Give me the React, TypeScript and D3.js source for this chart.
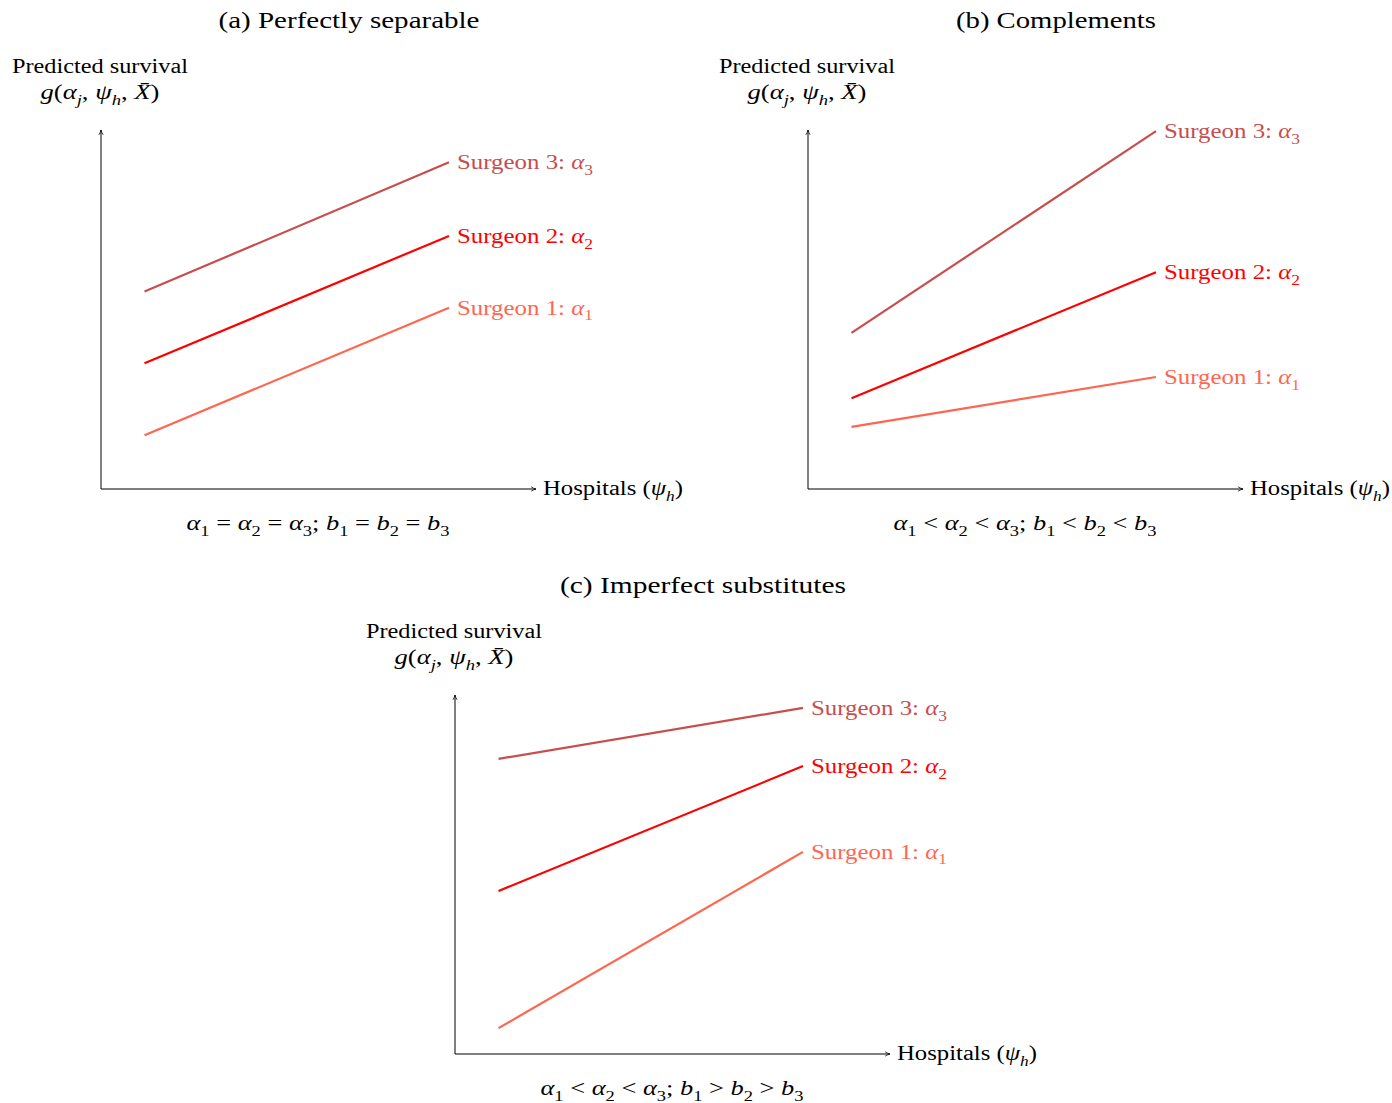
import React from "react";
import * as d3 from "d3";

const SURGEON_IDS = [1, 2, 3];
const COLORS = ["#ff6650", "#ff0000", "#c84d4d"];
const X_START = 1;
const X_END = 8;

const A_START = [1.5, 3.5, 5.5];
const A_END = [5.05, 7.05, 9.1];
const B_START = [1.73, 2.53, 4.35];
const B_END = [3.12, 6.04, 9.97];
const C_START = [0.72, 4.54, 8.22];
const C_END = [5.63, 8.02, 9.64];

const TITLES = ["(a) Perfectly separable", "(b) Complements", "(c) Imperfect substitutes"];
const RELS = [["=", "="], ["<", "<"], ["<", ">"]];

const FONT = "'Liberation Serif', 'Times New Roman', serif";

type Seg = { t: string; i?: boolean; s?: boolean };

function MathText({ x, y, segs, size, anchor = "start", fill = "#000", len }: any) {
  const sub = size * 0.28;
  const out: any[] = [];
  let shifted = false;
  segs.forEach((g: Seg, k: number) => {
    let dy = 0;
    if (g.s && !shifted) { dy = sub; shifted = true; }
    else if (!g.s && shifted) { dy = -sub; shifted = false; }
    out.push(
      <tspan key={k} dy={dy || undefined} fontStyle={g.i ? "italic" : undefined} fontSize={g.s ? size * 0.7 : undefined}>
        {g.t}
      </tspan>
    );
  });
  return (
    <text x={x} y={y} fontSize={size} fontFamily={FONT} textAnchor={anchor} fill={fill}
      textLength={len} lengthAdjust={len ? "spacingAndGlyphs" : undefined}>
      {out}
    </text>
  );
}

const gSegs: Seg[] = [
  { t: "g", i: true }, { t: "(" }, { t: "α", i: true }, { t: "j", i: true, s: true },
  { t: ", " }, { t: "ψ", i: true }, { t: "h", i: true, s: true }, { t: ", " },
  { t: "X\u0304", i: true }, { t: ")" },
];
const hospSegs: Seg[] = [{ t: "Hospitals (" }, { t: "ψ", i: true }, { t: "h", i: true, s: true }, { t: ")" }];

function captionSegs(r: string[]): Seg[] {
  return [
    { t: "α", i: true }, { t: "1", s: true }, { t: ` ${r[0]} ` }, { t: "α", i: true }, { t: "2", s: true },
    { t: ` ${r[0]} ` }, { t: "α", i: true }, { t: "3", s: true }, { t: "; " },
    { t: "b", i: true }, { t: "1", s: true }, { t: ` ${r[1]} ` }, { t: "b", i: true }, { t: "2", s: true },
    { t: ` ${r[1]} ` }, { t: "b", i: true }, { t: "3", s: true },
  ];
}

const x = d3.scaleLinear().domain([0, 10]).range([101, 536]);
const y = d3.scaleLinear().domain([0, 10]).range([489, 130]);
const line = d3.line<[number, number]>().x((d) => x(d[0])).y((d) => y(d[1]));

function Panel({ ox, oy, title, titleLen, starts, ends, rel, capLen }: any) {
  return (
    <g transform={`translate(${ox},${oy})`}>
      <MathText x={349} y={28} segs={[{ t: title }]} size={24} anchor="middle" len={titleLen} />
      <MathText x={100} y={73} segs={[{ t: "Predicted survival" }]} size={20} anchor="middle" len={176} />
      <MathText x={100} y={99} segs={gSegs} size={20} anchor="middle" len={119} />
      <line x1={x(0)} y1={y(0)} x2={x(0)} y2={y(10)} stroke="#000" strokeWidth={1} markerEnd="url(#arr)" />
      <line x1={x(0)} y1={y(0)} x2={x(10)} y2={y(0)} stroke="#000" strokeWidth={1} markerEnd="url(#arr)" />
      <MathText x={543} y={495} segs={hospSegs} size={20} len={140} />
      <MathText x={318} y={530} segs={captionSegs(rel)} size={20} anchor="middle" len={capLen} />
      {SURGEON_IDS.map((id, k) => (
        <g key={id}>
          <path d={line([[X_START, starts[k]], [X_END, ends[k]]]) || ""} stroke={COLORS[k]} strokeWidth={2.2} fill="none" />
          <MathText x={x(X_END) + 8} y={y(ends[k]) + 7} fill={COLORS[k]} size={20} len={136}
            segs={[{ t: `Surgeon ${id}: ` }, { t: "α", i: true }, { t: String(id), s: true }]} />
        </g>
      ))}
    </g>
  );
}

export default function App() {
  return (
    <svg width={1392} height={1103} style={{ display: "block", position: "absolute", left: 0, top: 0, background: "#fff" }}>
      <defs>
        <marker id="arr" viewBox="0 0 10 10" refX="9" refY="5" markerWidth="6" markerHeight="6" orient="auto" markerUnits="userSpaceOnUse">
          <path d="M1,1.5 Q5,4 9,5 Q5,6 1,8.5" fill="none" stroke="#000" strokeWidth={1.3} />
        </marker>
      </defs>
      <rect width={1392} height={1103} fill="#fff" />
      <Panel ox={0} oy={0} title={TITLES[0]} titleLen={261} starts={A_START} ends={A_END} rel={RELS[0]} capLen={263} />
      <Panel ox={707} oy={0} title={TITLES[1]} titleLen={200} starts={B_START} ends={B_END} rel={RELS[1]} capLen={263} />
      <Panel ox={354} oy={565} title={TITLES[2]} titleLen={286} starts={C_START} ends={C_END} rel={RELS[2]} capLen={263} />
    </svg>
  );
}
